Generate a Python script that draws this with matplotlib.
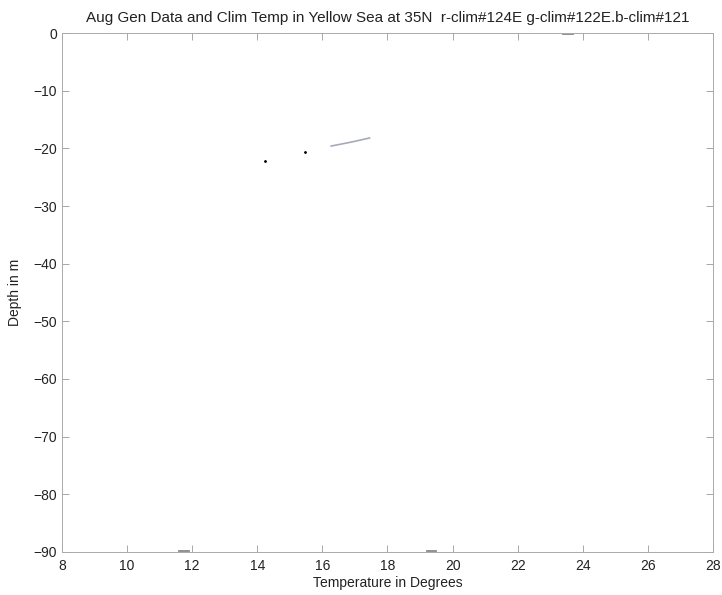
import matplotlib
matplotlib.use("Agg")
import matplotlib.pyplot as plt
import numpy as np

plt.rcParams['font.family'] = ['Liberation Sans', 'DejaVu Sans']

# faint data visible in the scan
dot_temp = [14.23, 15.45]
dot_depth = [-22.2, -20.6]
line_temp = [16.27, 16.9, 17.45]
line_depth = [-19.6, -18.9, -18.2]
# short bits lying on the axis edges
edge_bits = [
    ([11.6, 11.9], [-89.9, -89.9]),
    ([19.2, 19.5], [-89.9, -89.9]),
    ([23.4, 23.7], [-0.1, -0.1]),
]

xticks = np.arange(8, 29, 2)
yticks = np.arange(-90, 1, 10)

fig = plt.figure(figsize=(7.22, 5.95), dpi=100)
ax = fig.add_axes([0.0859, 0.0723, 0.9016, 0.8722])

ax.plot(dot_temp, dot_depth, 'k.', markersize=2)
ax.plot(line_temp, line_depth, '-', color='#a7aabb', linewidth=1.2)
for bx, by in edge_bits:
    ax.plot(bx, by, '-', color='#888888', linewidth=1.3)

ax.set_xlim(8, 28)
ax.set_ylim(-90, 0)
ax.set_xticks(xticks)
ax.set_yticks(yticks)
ax.set_xticklabels([str(t) for t in xticks])
ax.set_yticklabels(['\u2212%d' % -t if t < 0 else '0' for t in yticks])
ax.tick_params(direction='in', top=True, right=True, length=5,
               width=0.6, color='#999999', labelsize=10, labelcolor='#222222')
ax.tick_params(axis='x', pad=5)
for s in ax.spines.values():
    s.set_color('#aaaaaa')
    s.set_linewidth(0.7)

ax.set_xlabel('Temperature in Degrees', fontsize=10, color='#222222', labelpad=2)
ax.set_ylabel('Depth in m', fontsize=10, color='#222222', labelpad=8)
ax.set_title('Aug Gen Data and Clim Temp in Yellow Sea at 35N  r-clim#124E g-clim#122E.b-clim#121',
             fontsize=11, color='#222222', pad=8)

fig.savefig('out.png', dpi=100)
